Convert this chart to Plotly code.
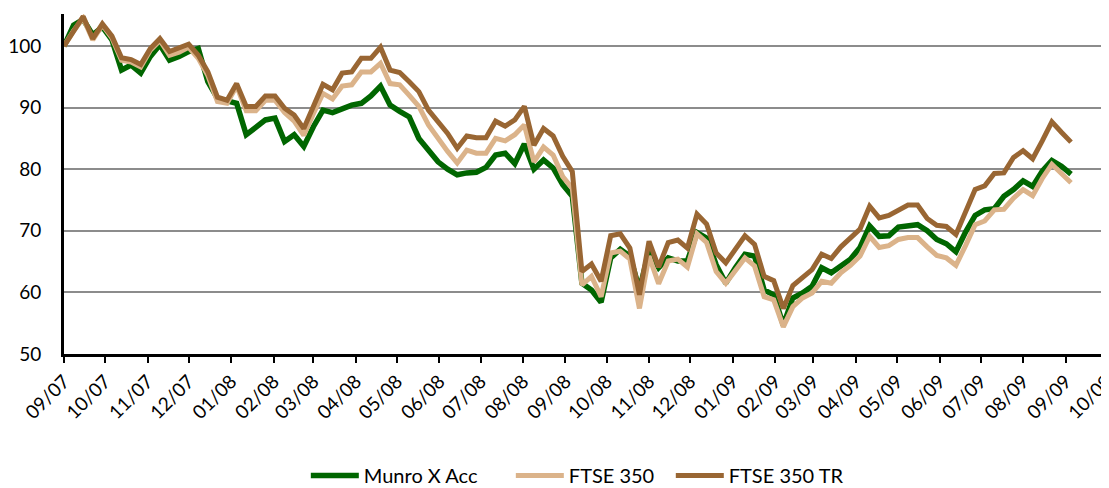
import pandas as pd
import plotly.graph_objects as go

start_date = "2007-09-01"
n_weeks = 106

munro_x_acc = [
    100.0, 103.4, 104.3, 101.8, 103.1, 101.0, 96.1, 96.9, 95.6, 98.3,
    100.2, 97.7, 98.3, 99.1, 99.6, 94.2, 91.5, 91.0, 90.7, 85.6,
    86.9, 88.0, 88.3, 84.5, 85.6, 83.7, 86.9, 89.6, 89.2, 89.8,
    90.4, 90.7, 91.9, 93.5, 90.4, 89.4, 88.5, 85.0, 83.1, 81.2,
    80.0, 79.1, 79.4, 79.5, 80.3, 82.3, 82.6, 80.9, 84.1, 80.0,
    81.5, 80.2, 77.5, 75.6, 61.5, 60.4, 58.4, 65.6, 67.0, 65.9,
    60.5, 66.7, 64.0, 65.6, 65.1, 65.1, 69.7, 68.8, 64.5, 61.5,
    64.0, 66.2, 65.9, 60.4, 59.6, 54.7, 59.1, 59.9, 61.0, 64.0,
    63.2, 64.3, 65.4, 67.3, 70.8, 69.1, 69.2, 70.6, 70.7, 71.0,
    70.0, 68.6, 67.9, 66.6, 69.8, 72.5, 73.4, 73.6, 75.6, 76.7,
    78.1, 77.2, 79.7, 81.4, 80.5, 79.2,
]

ftse_350 = [
    100.0, 102.5, 104.5, 101.0, 103.4, 101.3, 97.7, 97.4, 96.6, 99.3,
    100.9, 98.5, 99.0, 99.8, 98.0, 95.2, 91.0, 90.7, 93.5, 89.5,
    89.5, 91.2, 91.2, 89.2, 87.8, 85.5, 89.0, 92.3, 91.4, 93.5,
    93.7, 95.8, 95.8, 97.2, 93.9, 93.7, 92.0, 90.2, 87.2, 85.0,
    82.9, 81.0, 83.1, 82.6, 82.6, 85.0, 84.6, 85.6, 87.2, 81.2,
    83.6, 82.3, 78.8, 76.9, 61.2, 62.6, 59.3, 66.4, 66.7, 65.4,
    57.4, 65.9, 61.4, 65.1, 65.4, 64.1, 69.5, 68.1, 63.4, 61.5,
    63.4, 65.6, 64.3, 59.3, 58.8, 54.4, 57.7, 59.1, 59.9, 61.8,
    61.5, 63.2, 64.4, 65.9, 69.1, 67.3, 67.6, 68.6, 68.9, 68.9,
    67.4, 66.0, 65.6, 64.4, 67.6, 71.0, 71.6, 73.4, 73.5, 75.3,
    76.7, 75.7, 78.5, 80.8, 79.3, 77.8,
]

ftse_350_tr = [
    100.0, 102.5, 104.8, 101.2, 103.6, 101.6, 98.1, 97.8, 97.0, 99.6,
    101.2, 99.1, 99.6, 100.3, 98.5, 95.8, 91.7, 91.2, 93.9, 90.2,
    90.2, 91.9, 91.9, 89.9, 88.8, 86.6, 90.2, 93.8, 92.9, 95.6,
    95.8, 98.0, 98.0, 99.8, 96.1, 95.7, 94.2, 92.6, 89.6, 87.7,
    85.8, 83.4, 85.4, 85.1, 85.1, 87.8, 87.0, 88.0, 90.2, 83.9,
    86.6, 85.4, 82.1, 79.6, 63.4, 64.6, 61.8, 69.2, 69.5, 67.2,
    59.6, 68.3, 64.1, 68.1, 68.5, 67.2, 72.7, 71.1, 66.4, 64.8,
    67.0, 69.2, 67.8, 62.6, 61.9, 57.4, 61.1, 62.5, 63.7, 66.2,
    65.5, 67.4, 68.9, 70.3, 74.0, 72.1, 72.5, 73.4, 74.2, 74.2,
    72.0, 70.9, 70.7, 69.4, 73.0, 76.7, 77.3, 79.3, 79.4, 81.9,
    83.0, 81.7, 84.6, 87.7, 86.0, 84.4,
]

series_names = ["Munro X Acc", "FTSE 350", "FTSE 350 TR"]
series_colors = ["#006600", "#DBB38A", "#996633"]
series_widths = [5.5, 5, 5]

dates = pd.date_range(start_date, periods=n_weeks, freq="7D")
tick_dates = pd.date_range("2007-09-01", "2009-10-01", freq="MS")
tick_text = [d.strftime("%m/%y") for d in tick_dates]

# the page body has an 8px margin: figure is sized/margined to compensate
FIG_W, FIG_H = 1101, 480
legend_ids = ["legend", "legend2", "legend3"]
legend_x = [0.2705, 0.4567, 0.6020]

font_family = "Lato, 'Open Sans', sans-serif"

fig = go.Figure()
for name, vals, col, w, lg in zip(series_names, [munro_x_acc, ftse_350, ftse_350_tr],
                                  series_colors, series_widths, legend_ids):
    fig.add_trace(go.Scatter(x=dates, y=vals, mode="lines", name=name,
                             line=dict(color=col, width=w), legend=lg))

legend_common = dict(orientation="h", xref="container", yref="container",
                     xanchor="left", y=0.026, yanchor="middle",
                     font=dict(size=20, family=font_family), itemwidth=48,
                     bgcolor="rgba(0,0,0,0)")
legends = {}
for lg, lx in zip(legend_ids, legend_x):
    legends[lg] = dict(legend_common, x=lx)

fig.update_layout(
    width=FIG_W, height=FIG_H,
    margin=dict(l=56, r=2, t=6, b=134, autoexpand=False),
    plot_bgcolor="white", paper_bgcolor="white",
    font=dict(family=font_family, size=19, color="#000000"),
    showlegend=True,
    **legends,
    xaxis=dict(
        type="date", automargin=False,
        range=[pd.Timestamp("2007-09-01"), pd.Timestamp("2009-10-01 06:00")],
        tickmode="array", tickvals=tick_dates, ticktext=tick_text,
        tickangle=-45, ticks="outside", ticklen=6, tickwidth=2, tickcolor="#000",
        ticklabeloverflow="allow",
        showline=True, linecolor="#000", linewidth=3, showgrid=False,
        zeroline=False, tickfont=dict(size=19),
    ),
    yaxis=dict(
        automargin=False,
        range=[50, 105.2], tickmode="array", tickvals=[50, 60, 70, 80, 90, 100],
        showline=True, linecolor="#000", linewidth=3,
        showgrid=True, gridcolor="#8C8C8C", gridwidth=2,
        ticks="", ticklabelstandoff=16, ticklabeloverflow="allow",
        zeroline=False, tickfont=dict(size=19),
    ),
)

fig.write_html("out.html")
